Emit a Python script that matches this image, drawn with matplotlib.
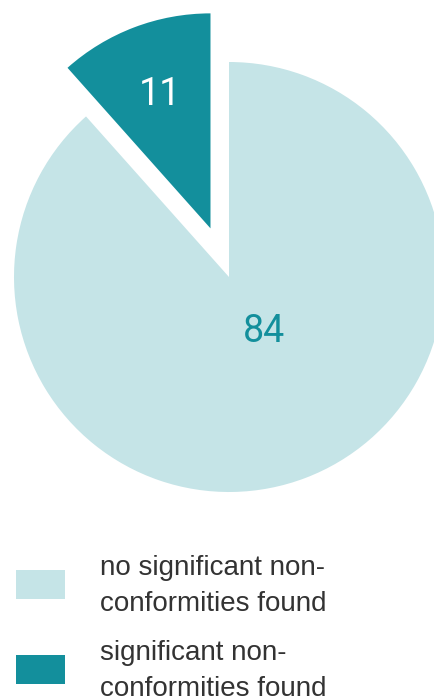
import matplotlib
matplotlib.use("Agg")
import matplotlib.pyplot as plt
from matplotlib.patches import Rectangle
import numpy as np

# ---- data ----
categories = ["significant non-\nconformities found", "no significant non-\nconformities found"]
values = [11, 84]
colors = ["#138f9c", "#c5e4e7"]
label_colors = ["white", "#138f9c"]
explode_frac = [0.242, 0.0]

W, H, DPI = 435, 698, 100
fig = plt.figure(figsize=(W / DPI, H / DPI), dpi=DPI)
ax = fig.add_axes([0, 0, 1, 1])

cx, cy, R = 229, H - 277, 215
wedges, _ = ax.pie(values, colors=colors, startangle=90, counterclock=True,
                   explode=[e * R for e in explode_frac], center=(cx, cy), radius=R,
                   wedgeprops=dict(linewidth=0))
ax.set_xlim(0, W)
ax.set_ylim(0, H)
ax.set_aspect("equal")
ax.axis("off")

# label placement (fraction of radius, angle offset from bisector)
label_dist = [0.665, 0.30]
label_dang = [0.0, 12.0]
for w, v, d, da, c in zip(wedges, values, label_dist, label_dang, label_colors):
    mid = np.deg2rad((w.theta1 + w.theta2) / 2 + da)
    x = w.center[0] + d * w.r * np.cos(mid)
    y = w.center[1] + d * w.r * np.sin(mid)
    ax.text(x, y, str(v), color=c, fontsize=27, ha="center", va="center",
            family="Roboto", fontweight="normal")

# ---- legend (drawn manually, in pixel layout) ----
legend_order = [1, 0]
box_tops = [570, 655]
for idx, top in zip(legend_order, box_tops):
    ax.add_patch(Rectangle((16, H - top - 29), 49, 29, facecolor=colors[idx],
                           edgecolor="none"))
    ax.text(100, H - top - 41, categories[idx], color="#333333", fontsize=20,
            ha="left", va="baseline", linespacing=1.48, family="Liberation Sans")

fig.savefig("out.png", dpi=DPI)
